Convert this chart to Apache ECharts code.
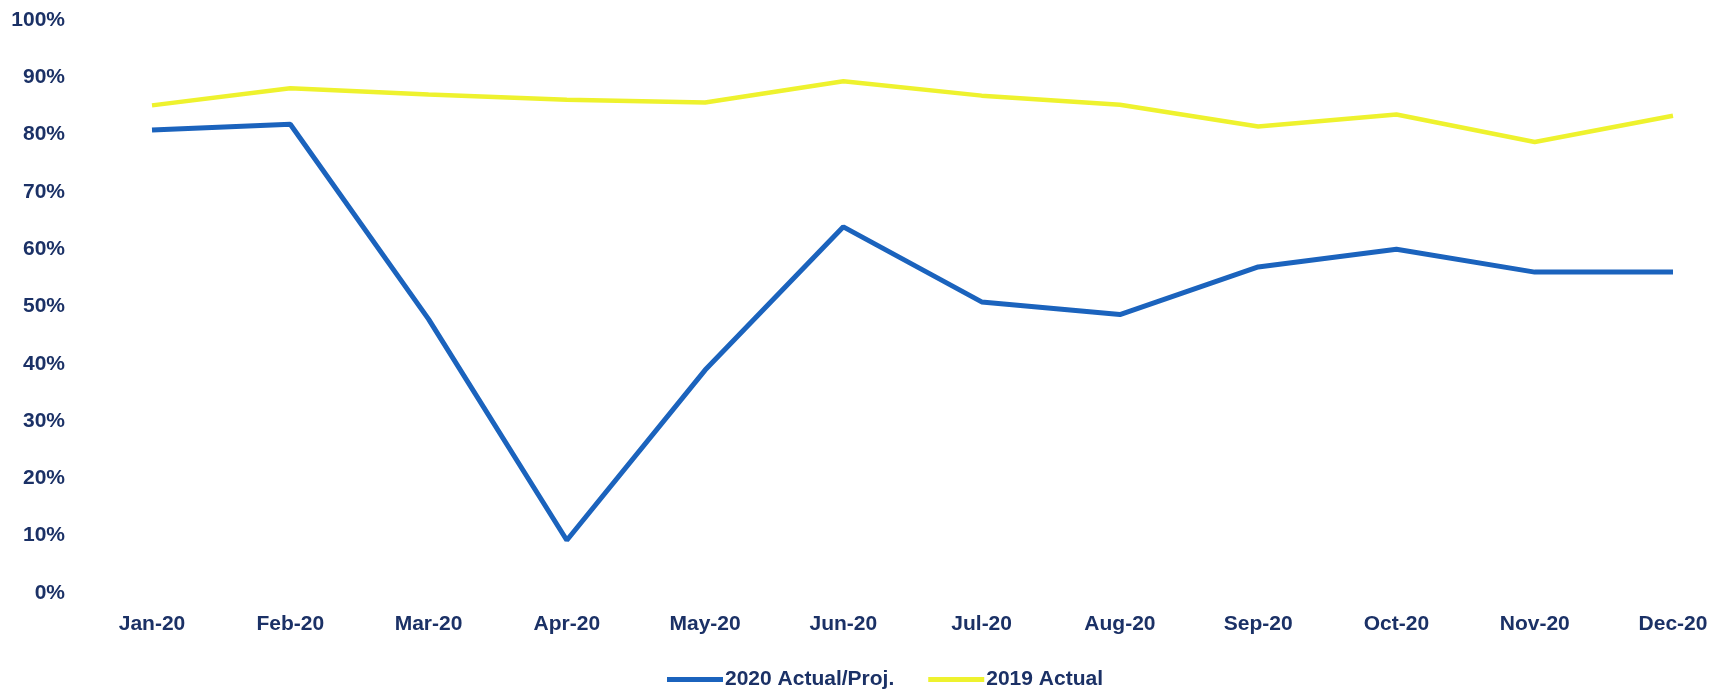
<!DOCTYPE html>
<html>
<head>
<meta charset="utf-8">
<script src="https://cdn.jsdelivr.net/npm/echarts@6/dist/echarts.min.js"></script>
<style>
html,body{margin:0;padding:0;background:#fff;}
#chart{width:1726px;height:696px;}
</style>
</head>
<body>
<div id="chart"></div>
<script>
const categories = ['Jan-20','Feb-20','Mar-20','Apr-20','May-20','Jun-20','Jul-20','Aug-20','Sep-20','Oct-20','Nov-20','Dec-20'];
const actual2020 = [80.8, 81.8, 47.8, 9.2, 38.9, 63.9, 50.8, 48.6, 56.9, 60.0, 56.0, 56.0];
const actual2019 = [85.1, 88.1, 87.0, 86.1, 85.6, 89.3, 86.8, 85.2, 81.4, 83.5, 78.7, 83.3];
const seriesNames = ['2020 Actual/Proj.', '2019 Actual'];

const textColor = '#1b3166';
const font = { color: textColor, fontSize: 21, fontFamily: 'Liberation Sans', fontWeight: 'bold' };
const chart = echarts.init(document.getElementById('chart'));
chart.setOption({
  backgroundColor: '#ffffff',
  animation: false,
  grid: { left: 152, right: 53, top: 20, bottom: 103 },
  legend: {
    top: 664,
    left: 662,
    itemWidth: 56,
    itemHeight: 5,
    itemGap: 34,
    icon: 'rect',
    textStyle: Object.assign({}, font, { padding: [0, 0, 0, -3] }),
    data: seriesNames
  },
  xAxis: {
    type: 'category',
    boundaryGap: false,
    data: categories,
    axisLine: { show: false },
    axisTick: { show: false },
    axisLabel: Object.assign({}, font, { margin: 21 })
  },
  yAxis: {
    type: 'value',
    min: 0, max: 100, interval: 10,
    splitLine: { show: false },
    axisLine: { show: false },
    axisTick: { show: false },
    axisLabel: Object.assign({}, font, { margin: 87, formatter: '{value}%' })
  },
  series: [
    { name: seriesNames[0], type: 'line', data: actual2020, symbol: 'none',
      lineStyle: { color: '#1b63bd', width: 5 }, itemStyle: { color: '#1b63bd' } },
    { name: seriesNames[1], type: 'line', data: actual2019, symbol: 'none',
      lineStyle: { color: '#eef22e', width: 4.5 }, itemStyle: { color: '#eef22e' } }
  ]
});
</script>
</body>
</html>
